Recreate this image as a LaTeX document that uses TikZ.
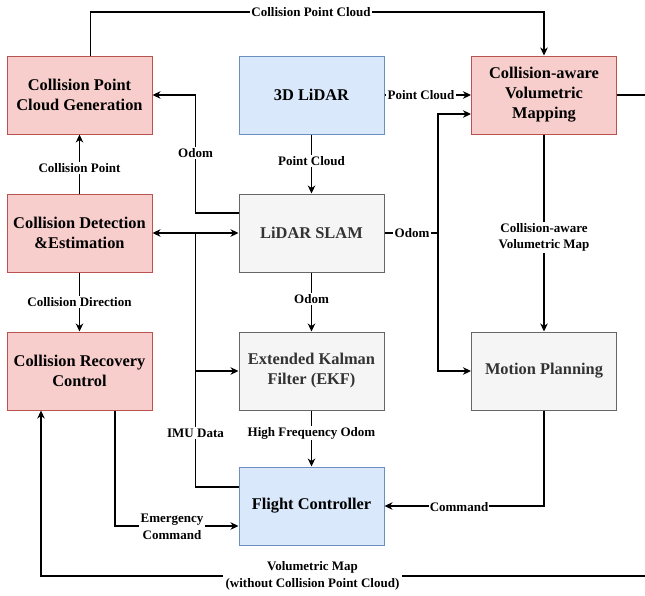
\documentclass[tikz,border=0pt]{standalone}
\usepackage{fontspec}
\setmainfont{Liberation Serif}
\usetikzlibrary{arrows.meta,calc}
\definecolor{redfill}{HTML}{F8CECC}
\definecolor{redline}{HTML}{B85450}
\definecolor{bluefill}{HTML}{DAE8FC}
\definecolor{blueline}{HTML}{6C8EBF}
\definecolor{grayfill}{HTML}{F5F5F5}
\definecolor{grayline}{HTML}{666666}
\definecolor{graytext}{HTML}{333333}
\tikzset{
  box/.style={draw, line width=1pt, minimum width=145pt, minimum height=78pt, align=center,
    inner sep=2pt, font=\fontsize{16.4}{20}\selectfont\bfseries},
  redbox/.style={box, fill=redfill, draw=redline},
  bluebox/.style={box, fill=bluefill, draw=blueline},
  graybox/.style={box, fill=grayfill, draw=grayline, text=graytext},
  conn/.style={line width=1.2pt, black},
  arr/.style={conn, -{Stealth[length=8pt,width=7.5pt,inset=2.5pt]}},
  arrboth/.style={conn, {Stealth[length=8pt,width=7.5pt,inset=2.5pt]}-{Stealth[length=8pt,width=7.5pt,inset=2.5pt]}},
  lbl/.style={fill=white, inner sep=1.2pt, align=center, font=\fontsize{13}{16.7}\selectfont\bfseries}
}
\begin{document}
\begin{tikzpicture}[x=1pt,y=-1pt]
\useasboundingbox (0,0) rectangle (645,595);
% boxes
\node[redbox] (CPCG) at (79.5,95) {Collision Point\\Cloud Generation};
\node[bluebox] (LIDAR) at (311.5,95) {3D LiDAR};
\node[redbox] (CVM) at (544,95) {Collision-aware\\Volumetric\\Mapping};
\node[redbox] (CDE) at (79.5,233) {Collision Detection\\\&Estimation};
\node[graybox] (SLAM) at (311.5,233) {LiDAR SLAM};
\node[redbox] (CRC) at (79.5,371) {Collision Recovery\\Control};
\node[graybox] (EKF) at (311.5,371) {Extended Kalman\\Filter (EKF)};
\node[graybox] (MP) at (544,371) {Motion Planning};
\node[bluebox] (FC) at (311.5,506) {Flight Controller};
% coordinates
\coordinate (ct) at (90.5,12);
\coordinate (oa) at (195.5,213);
\coordinate (ia) at (195.5,487);
\coordinate (ob) at (438,233);
\coordinate (ec) at (115,526);
\coordinate (vr) at (652,95);
\coordinate (vb) at (41,576);
% connectors
\draw[arr] (CPCG.north -| ct) -- (ct) -| (CVM.north);
\draw[arr] (LIDAR.south) -- (SLAM.north);
\draw[arr] (LIDAR.east) -- (CVM.west);
\draw[arr] (SLAM.west |- oa) -- (oa) |- (CPCG.east);
\draw[arrboth] (CDE.east) -- (SLAM.west);
\draw[conn] (FC.west |- ia) -- (ia) -- (ia |- SLAM.west);
\draw[arr] (ia |- EKF.west) -- (EKF.west);
\draw[arr] (SLAM.south) -- (EKF.north);
\draw[arr] (EKF.south) -- (FC.north);
\draw[conn] (SLAM.east) -- (ob);
\draw[arr] (ob) |- ([yshift=-19pt]CVM.west);
\draw[arr] (ob) |- (MP.west);
\draw[arr] (CVM.south) -- (MP.north);
\draw[arr] (MP.south) |- (FC.east);
\draw[arr] (CRC.south -| ec) |- ([yshift=-20pt]FC.west);
\draw[arr] (CDE.north) -- (CPCG.south);
\draw[arr] (CDE.south) -- (CRC.north);
\draw[arr] (CVM.east) -- (CVM.east -| vr) |- (vb) -- (vb |- CRC.south);
% labels
\node[lbl] (l1) at (311,12) {Collision Point Cloud};
\node[lbl] (l2) at (421,95) {Point Cloud};
\node[lbl] (l3) at (311.5,161) {Point Cloud};
\node[lbl] (l4) at (195.5,153) {Odom};
\node[lbl] (l5) at (79.5,168) {Collision Point};
\node[lbl] (l6) at (79.5,302) {Collision Direction};
\node[lbl] (l7) at (311.5,299) {Odom};
\node[lbl] (l8) at (412,233) {Odom};
\node[lbl] (l9) at (544,237.5) {Collision-aware\\Volumetric Map};
\node[lbl] (l10) at (195.5,433) {IMU Data};
\node[lbl] (l11) at (311.5,433) {High Frequency Odom};
\node[lbl] (l12) at (459,507) {Command};
\node[lbl] (l13) at (172,527) {Emergency\\Command};
\node[lbl, inner xsep=3pt] (l14) at (312.5,576) {Volumetric Map\\(without Collision Point Cloud)};
\end{tikzpicture}
\end{document}
